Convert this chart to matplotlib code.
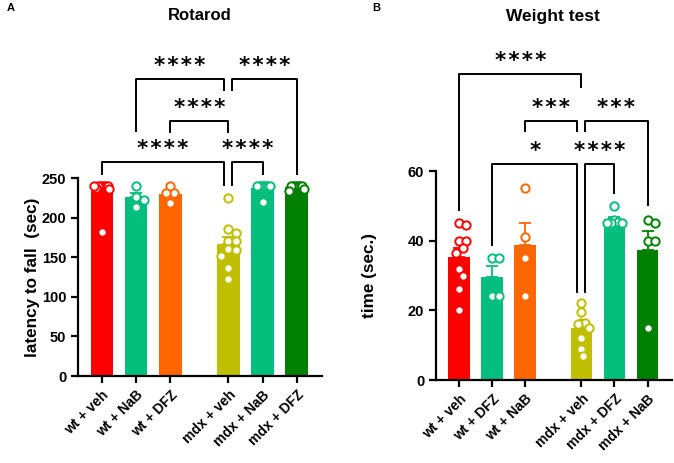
import numpy as np
import matplotlib.pyplot as plt

plt.rcParams['font.family'] = ['Liberation Sans', 'DejaVu Sans']
plt.rcParams['font.weight'] = 'bold'

# Rotarod (panel A)
rot_groups = ["wt + veh", "wt + NaB", "wt + DFZ", "mdx + veh", "mdx + NaB", "mdx + DFZ"]
rot_colors = ["#FF0000", "#03BE7D", "#FF6600", "#BFBF00", "#03BE7D", "#008000"]
rot_wt_veh = [240, 240, 240, 240, 240, 240, 238, 236, 240, 182]
rot_wt_nab = [240, 226, 222, 214]
rot_wt_dfz = [240, 231, 231, 218]
rot_mdx_veh = [225, 186, 181, 171, 171, 160, 159, 152, 136, 123]
rot_mdx_nab = [240, 240, 240, 240, 240, 240, 240, 240, 220]
rot_mdx_dfz = [240, 240, 240, 240, 240, 240, 240, 236, 234]
rot_values = [rot_wt_veh, rot_wt_nab, rot_wt_dfz, rot_mdx_veh, rot_mdx_nab, rot_mdx_dfz]

# Weight test (panel B)
wt_groups = ["wt + veh", "wt + DFZ", "wt + NaB", "mdx + veh", "mdx + DFZ", "mdx + NaB"]
wt_colors = ["#FF0000", "#03BE7D", "#FF6600", "#BFBF00", "#03BE7D", "#008000"]
wt_wt_veh = [45, 44.5, 40, 40, 38, 36.5, 32, 30, 26, 20]
wt_wt_dfz = [35, 35, 24, 24]
wt_wt_nab = [55, 41, 35, 24]
wt_mdx_veh = [22, 19.5, 16.5, 16.5, 16, 15, 12, 9, 7]
wt_mdx_dfz = [50, 46, 45.5, 45, 45, 45]
wt_mdx_nab = [46, 45, 40, 40, 15]
wt_values = [wt_wt_veh, wt_wt_dfz, wt_wt_nab, wt_mdx_veh, wt_mdx_dfz, wt_mdx_nab]

# comparisons: (left bar, right bar, bracket height, left leg end, right leg end, label)
# side -1 / +1 on bar 3 means the leg sits just left / right of the centre
rot_brackets = [
    ((0, 0), (3, -1), 270, 255, 241, "****"),
    ((3, 1), (4, 0), 270, 241, 255, "****"),
    ((2, 0), (3, 0), 322, 308, 308, "****"),
    ((1, 0), (3, -1), 375, 309, 361, "****"),
    ((3, 1), (5, 0), 375, 361, 255, "****"),
]
wt_brackets = [
    ((0, 0), (3, 0), 87.9, 48.8, 84, "****"),
    ((2, 0), (3, -1), 74.4, 71.5, 71.5, "***"),
    ((3, 1), (5, 0), 74.4, 71.5, 50.2, "***"),
    ((1, 0), (3, -1), 62, 38.8, 25.3, "*"),
    ((3, 1), (4, 0), 62, 25.3, 53.7, "****"),
]

pos = np.array([0, 1, 2, 3.7, 4.7, 5.7])
bar_w = 0.66
msize = 6.0


def swarm(ax, xc, vals, half):
    # simple beeswarm in pixel space, squeezed to the bar width
    d = msize * 100 / 72.0
    x0 = ax.transData.transform((0, 0))
    xs = ax.transData.transform((1, 0))[0] - x0[0]
    ys = [ax.transData.transform((0, v))[1] for v in vals]
    cand = [0.0]
    for k in range(1, 30):
        cand += [k * d * 0.5, -k * d * 0.5]
    placed = []
    offs = []
    for y in ys:
        for c in cand:
            if all((c - px) ** 2 + (y - py) ** 2 >= (d * 0.95) ** 2 for px, py in placed):
                break
        placed.append((c, y))
        offs.append(c)
    offs = np.array(offs)
    m = np.abs(offs).max()
    lim = half * xs
    if m > lim:
        offs = offs * lim / m
    return xc + offs / xs


def panel(ax, groups, values, colors, ymax, ytop, yticks, brackets, star_off):
    ax.set_xlim(pos[0] - 0.70, pos[-1] + 0.74)
    ax.set_ylim(0, ymax)
    means = [np.mean(v) for v in values]
    sems = [np.std(v, ddof=1) / np.sqrt(len(v)) for v in values]
    ax.bar(pos, means, width=bar_w, color=colors, zorder=1)
    for i in range(len(pos)):
        ax.errorbar(pos[i], means[i], yerr=[[0], [sems[i]]], color=colors[i],
                    capsize=4, elinewidth=1.3, capthick=1.3, zorder=2)
        xs = swarm(ax, pos[i], values[i], 0.22)
        ax.scatter(xs, values[i], s=msize ** 2, facecolor="white",
                   edgecolor=colors[i], linewidth=1.4, zorder=3, clip_on=False)
    for sp in ["top", "right"]:
        ax.spines[sp].set_visible(False)
    for sp in ["left", "bottom"]:
        ax.spines[sp].set_linewidth(1.6)
    ax.spines["left"].set_bounds(0, ytop)
    ax.set_yticks(yticks)
    ax.set_xticks(pos)
    ax.set_xticklabels(groups, rotation=45, ha="right", rotation_mode="anchor")
    ax.tick_params(width=1.6, length=5, labelsize=10.5)
    ax.tick_params(axis="x", labelsize=10)
    for lab in ax.get_xticklabels() + ax.get_yticklabels():
        lab.set_fontweight("bold")
    for (a, sa), (b, sb), h, l1, l2, txt in brackets:
        xa = pos[a] + sa * 0.12
        xb = pos[b] + sb * 0.12
        ax.plot([xa, xa, xb, xb], [l1, h, h, l2], color="black", lw=1.4,
                clip_on=False, zorder=4)
        ax.text((xa + xb) / 2, h + star_off, "\u200a".join(txt), ha="center",
                va="center", fontsize=15.5, fontweight="bold", family="DejaVu Sans")


fig = plt.figure(figsize=(6.74, 4.63), dpi=100)
axA = fig.add_axes([78 / 674, 87 / 463, 244 / 674, 336 / 463])
axB = fig.add_axes([436 / 674, 83 / 463, 236 / 674, 340 / 463])

panel(axA, rot_groups, rot_values, rot_colors, 336 / 0.792, 250,
      [0, 50, 100, 150, 200, 250], rot_brackets, 17)
axA.set_ylabel("latency to fall  (sec)", fontsize=12.3, fontweight="bold")
axA.yaxis.set_label_coords(-0.156, 0.295)

panel(axB, wt_groups, wt_values, wt_colors, 340 / 3.483, 60,
      [0, 20, 40, 60], wt_brackets, 3.7)
axB.set_ylabel("time (sec.)", fontsize=12.3, fontweight="bold")
axB.yaxis.set_label_coords(-0.25, 0.307)

fig.text(200 / 674, 1 - 16 / 463, "Rotarod", ha="center", va="center",
         fontsize=12, fontweight="bold")
fig.text(553 / 674, 1 - 16 / 463, "Weight test", ha="center", va="center",
         fontsize=12.5, fontweight="bold")
fig.text(7 / 674, 1 - 8 / 463, "A", ha="left", va="center", fontsize=8, fontweight="bold")
fig.text(372 / 674, 1 - 8 / 463, "B", ha="left", va="center", fontsize=8, fontweight="bold")

fig.savefig("out.png", dpi=100)
